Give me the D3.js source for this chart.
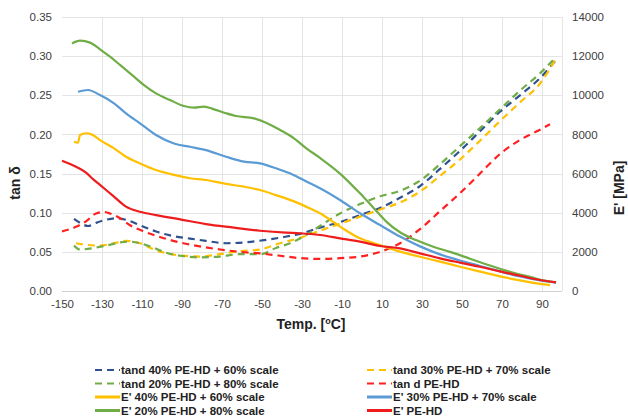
<!DOCTYPE html>
<html>
<head>
<meta charset="utf-8">
<script src="https://cdn.jsdelivr.net/npm/d3@7"></script>
<style>
  body { margin: 0; background: #fff; }
  svg { font-family: "Liberation Sans", Arial, sans-serif; }
</style>
</head>
<body>
<svg width="628" height="417"></svg>
<script>
// temperature ticks / ranges
var xTicks = [-150, -130, -110, -90, -70, -50, -30, -10, 10, 30, 50, 70, 90];
var leftTicks = [0, 0.05, 0.10, 0.15, 0.20, 0.25, 0.30, 0.35];
var rightTicks = [0, 2000, 4000, 6000, 8000, 10000, 12000, 14000];

// tan delta series  [temp, tan d]
var tand40 = [[-144,0.092],[-141,0.087],[-137,0.083],[-133,0.087],[-128,0.091],[-123,0.093],[-118,0.091],[-111,0.084],[-103,0.076],[-94,0.070],[-86,0.067],[-78,0.064],[-68,0.061],[-59,0.062],[-49,0.065],[-39,0.069],[-31,0.073],[-21,0.081],[-11,0.088],[-1,0.097],[9,0.106],[19,0.119],[29,0.134],[39,0.156],[49,0.179],[59,0.204],[69,0.229],[79,0.250],[89,0.272],[97,0.295]];
var tand30 = [[-143,0.061],[-138,0.059],[-131,0.058],[-124,0.061],[-118,0.064],[-111,0.061],[-103,0.052],[-93,0.046],[-81,0.044],[-71,0.047],[-61,0.051],[-51,0.053],[-41,0.061],[-31,0.068],[-21,0.077],[-11,0.086],[-1,0.095],[9,0.104],[19,0.113],[29,0.127],[39,0.147],[49,0.168],[59,0.192],[69,0.217],[79,0.241],[89,0.265],[97,0.297]];
var tand20 = [[-144,0.058],[-141,0.053],[-134,0.055],[-128,0.058],[-121,0.062],[-116,0.063],[-111,0.061],[-104,0.055],[-98,0.049],[-91,0.045],[-81,0.043],[-71,0.044],[-61,0.047],[-51,0.047],[-43,0.055],[-36,0.061],[-29,0.070],[-21,0.083],[-11,0.099],[-1,0.111],[9,0.121],[19,0.128],[29,0.141],[39,0.162],[49,0.185],[59,0.208],[69,0.232],[79,0.256],[89,0.278],[97,0.299]];
var tandPE = [[-150,0.076],[-143,0.082],[-138,0.089],[-133,0.099],[-129,0.101],[-126,0.099],[-121,0.093],[-116,0.084],[-109,0.076],[-101,0.069],[-91,0.062],[-81,0.057],[-71,0.053],[-61,0.050],[-51,0.048],[-41,0.045],[-31,0.042],[-21,0.041],[-11,0.042],[-1,0.044],[9,0.050],[19,0.061],[29,0.079],[39,0.102],[49,0.125],[59,0.150],[69,0.175],[79,0.193],[89,0.206],[94,0.213]];

// storage modulus series  [temp, E' MPa]
var e40 = [[-144,7630],[-142,7580],[-141,7970],[-138,8060],[-135,7990],[-131,7710],[-124,7290],[-118,6860],[-111,6520],[-103,6180],[-94,5930],[-86,5760],[-78,5670],[-68,5470],[-59,5330],[-51,5160],[-43,4900],[-34,4580],[-26,4220],[-21,3970],[-11,3290],[-1,2690],[9,2350],[19,2010],[29,1750],[39,1500],[49,1240],[59,990],[69,750],[79,540],[89,360],[94,300]];
var e30 = [[-142,10180],[-137,10270],[-131,10010],[-124,9590],[-118,9080],[-111,8570],[-103,7970],[-94,7540],[-86,7370],[-78,7200],[-68,6860],[-59,6610],[-51,6520],[-43,6270],[-34,5920],[-26,5500],[-21,5250],[-11,4650],[-1,3970],[9,3370],[19,2780],[29,2280],[39,1870],[49,1560],[59,1280],[69,1000],[79,740],[89,540],[97,430]];
var e20 = [[-145,12650],[-141,12790],[-136,12690],[-131,12350],[-126,11970],[-121,11550],[-114,10950],[-109,10520],[-103,10100],[-96,9760],[-89,9450],[-84,9370],[-79,9420],[-74,9280],[-68,9080],[-63,8940],[-54,8820],[-48,8600],[-41,8230],[-34,7800],[-28,7300],[-21,6800],[-11,6000],[-1,4990],[6,4220],[12,3560],[19,3000],[27,2600],[36,2250],[44,2000],[54,1650],[64,1300],[74,980],[84,720],[92,520],[97,450]];
var ePE = [[-150,6660],[-143,6350],[-138,6050],[-135,5760],[-131,5420],[-124,4820],[-118,4310],[-111,4050],[-103,3880],[-91,3660],[-78,3420],[-64,3240],[-51,3080],[-38,2980],[-31,2950],[-21,2860],[-11,2690],[-1,2520],[9,2300],[19,2180],[29,1925],[39,1670],[49,1450],[59,1240],[69,1000],[79,780],[89,560],[97,440]];

var seriesNames = ["tand 40% PE-HD + 60% scale", "tand 30% PE-HD + 70% scale",
                   "tand 20% PE-HD + 80% scale", "tan d PE-HD",
                   "E' 40% PE-HD + 60% scale", "E' 30% PE-HD + 70% scale",
                   "E' 20% PE-HD + 80% scale", "E' PE-HD"];

var svg = d3.select("svg");
var pLeft = 62, pRight = 562, pTop = 17, pBottom = 291;

var x = d3.scaleLinear().domain([-150, 100]).range([pLeft, pRight]);
var yL = d3.scaleLinear().domain([0, 0.35]).range([pBottom, pTop]);
var yR = d3.scaleLinear().domain([0, 14000]).range([pBottom, pTop]);

// grid
svg.append("g").selectAll("line").data(leftTicks.slice(1)).enter().append("line")
    .attr("x1", pLeft).attr("x2", pRight)
    .attr("y1", function(d) { return Math.round(yL(d)) + 0.5; }).attr("y2", function(d) { return Math.round(yL(d)) + 0.5; })
    .attr("stroke", "#e4e4e4").attr("stroke-width", 1);
svg.append("g").selectAll("line").data(xTicks.slice(1).concat([100])).enter().append("line")
    .attr("x1", function(d) { return Math.round(x(d)) + 0.5; }).attr("x2", function(d) { return Math.round(x(d)) + 0.5; })
    .attr("y1", pTop).attr("y2", pBottom)
    .attr("stroke", "#e4e4e4").attr("stroke-width", 1);

// axes
var xAxis = svg.append("g").attr("transform", "translate(0," + pBottom + ")")
    .call(d3.axisBottom(x).tickValues(xTicks).tickSize(0).tickPadding(9).tickFormat(function(d) { return String(d); }));
var lAxis = svg.append("g").attr("transform", "translate(" + (pLeft - 1) + ",0)")
    .call(d3.axisLeft(yL).tickValues(leftTicks).tickSize(0).tickPadding(9).tickFormat(function(d) { return d.toFixed(2); }));
var rAxis = svg.append("g").attr("transform", "translate(" + pRight + ",0)")
    .call(d3.axisRight(yR).tickValues(rightTicks).tickSize(0).tickPadding(10).tickFormat(function(d) { return String(d); }));
[xAxis, lAxis, rAxis].forEach(function(a) {
    a.select(".domain").attr("stroke", "none");
    a.selectAll("text").attr("font-size", 11.5).attr("fill", "#404040");
});
svg.append("line").attr("x1", pLeft).attr("x2", pRight).attr("y1", pBottom + 0.5).attr("y2", pBottom + 0.5)
    .attr("stroke", "#d0d0d0");

// lines
var lineL = d3.line().curve(d3.curveMonotoneX)
    .x(function(d) { return x(d[0]); }).y(function(d) { return yL(d[1]); });
var lineR = d3.line().curve(d3.curveMonotoneX)
    .x(function(d) { return x(d[0]); }).y(function(d) { return yR(d[1]); });

var series = [
    {data: tand40, line: lineL, color: "#2f528f", dash: true},
    {data: tand30, line: lineL, color: "#ffc000", dash: true},
    {data: tand20, line: lineL, color: "#70ad47", dash: true},
    {data: tandPE, line: lineL, color: "#ff2020", dash: true},
    {data: e40, line: lineR, color: "#ffc000", dash: false},
    {data: e30, line: lineR, color: "#5b9bd5", dash: false},
    {data: e20, line: lineR, color: "#70ad47", dash: false},
    {data: ePE, line: lineR, color: "#ee1c1c", dash: false}
];
series.forEach(function(s, i) { s.name = seriesNames[i]; });

svg.append("g").selectAll("path").data(series).enter().append("path")
    .attr("d", function(s) { return s.line(s.data); })
    .attr("fill", "none")
    .attr("stroke", function(s) { return s.color; })
    .attr("stroke-width", 2.2)
    .attr("stroke-dasharray", function(s) { return s.dash ? "7,5" : null; });

// axis titles
svg.append("text").attr("transform", "translate(20,183) rotate(-90)")
    .attr("text-anchor", "middle").attr("font-size", 14).attr("font-weight", "bold")
    .attr("fill", "#222").text("tan δ");
svg.append("text").attr("transform", "translate(624,188) rotate(-90)")
    .attr("text-anchor", "middle").attr("font-size", 14).attr("font-weight", "bold")
    .attr("fill", "#222").text("E' [MPa]");
var xt = svg.append("text").attr("x", 311).attr("y", 329)
    .attr("text-anchor", "middle").attr("font-size", 14).attr("font-weight", "bold")
    .attr("fill", "#222");
xt.append("tspan").text("Temp. [");
xt.append("tspan").attr("font-size", 9).attr("dy", -5).text("o");
xt.append("tspan").attr("dy", 5).text("C]");

// legend: order column-wise as in the reference
var legendOrder = [0, 2, 4, 6, 1, 3, 5, 7];
var leg = svg.append("g").selectAll("g").data(legendOrder.map(function(i) { return series[i]; }))
    .enter().append("g")
    .attr("transform", function(s, k) {
        var col = k < 4 ? 0 : 1, row = k % 4;
        return "translate(" + (col ? 367 : 95) + "," + (370 + row * 13.5) + ")";
    });
leg.append("line").attr("x1", 0).attr("x2", 25).attr("y1", 0).attr("y2", 0)
    .attr("stroke", function(s) { return s.color; })
    .attr("stroke-width", function(s) { return s.dash ? 2.2 : 3; })
    .attr("stroke-dasharray", function(s) { return s.dash ? "7,5" : null; });
leg.append("text").attr("x", 26).attr("y", 4)
    .attr("font-size", 11.5).attr("font-weight", "bold").attr("fill", "#222")
    .text(function(s) { return s.name; });
</script>
</body>
</html>
